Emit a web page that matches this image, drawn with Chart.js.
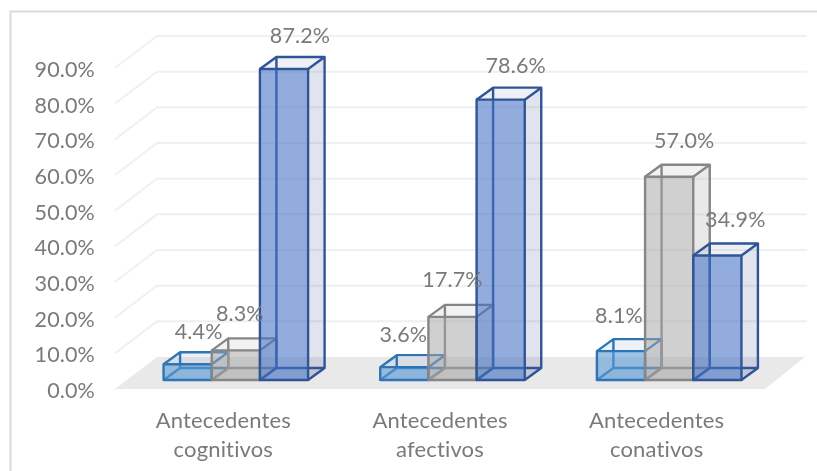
<!DOCTYPE html>
<html lang="es">
<head>
<meta charset="utf-8">
<title>Antecedentes</title>
<script src="https://cdn.jsdelivr.net/npm/chart.js@4"></script>
<style>
  html, body { margin: 0; padding: 0; background: #fff; }
  canvas { display: block; }
</style>
</head>
<body>
<canvas id="chart" width="817" height="471"></canvas>
<script>
const categories = [
  ['Antecedentes', 'cognitivos'],
  ['Antecedentes', 'afectivos'],
  ['Antecedentes', 'conativos']
];
const seriesLight = [4.4, 3.6, 8.1];
const seriesGray = [8.3, 17.7, 57.0];
const seriesBlue = [87.2, 78.6, 34.9];

// Hand-placed nudges for each value label: [dx, dy] from the top centre of its bar.
const lightLabelNudge = [[11, -32], [-1, -32], [-2, -35]];
const grayLabelNudge = [[4, -36], [0, -37], [15, -36]];
const blueLabelNudge = [[16, -33], [15, -34], [18, -35]];

const TEXT = '#7a7a7a';
const FONT = 'Lato';
const WALL = { dx: 42, dy: -32 };   // receding vector of the floor and the side wall
const DEPTH = { dx: 16.5, dy: -12 }; // receding vector of a bar
const BAR_SHIFT = { x: 12.5, y: -9 }; // bars stand inside the floor, not on its front edge
const EDGE_WIDTH = 2.4;

const styles = [
  { front: 'rgba(91,155,213,0.60)', edge: '#2e75b6', top: 'rgba(91,120,190,0.10)', side: 'rgba(91,120,190,0.10)' },
  { front: 'rgba(165,165,165,0.52)', edge: '#868686', top: 'rgba(165,165,165,0.14)', side: 'rgba(165,165,165,0.24)' },
  { front: 'rgba(68,114,196,0.58)', edge: '#2f5597', top: 'rgba(68,90,150,0.09)', side: 'rgba(68,90,150,0.16)' }
];
const nudges = [lightLabelNudge, grayLabelNudge, blueLabelNudge];

function poly(ctx, pts) {
  ctx.beginPath();
  pts.forEach((p, i) => (i ? ctx.lineTo(p[0], p[1]) : ctx.moveTo(p[0], p[1])));
  ctx.closePath();
}

// Frame, floor and the stepped gridlines behind the bars.
const roomPlugin = {
  id: 'room',
  beforeDraw(chart) {
    // A hair of tracking keeps "ti" from joining into a ligature in the axis labels.
    chart.ctx.letterSpacing = '0.15px';
  },
  beforeDatasetsDraw(chart) {
    const { ctx, chartArea: a, scales: { y } } = chart;
    ctx.save();

    ctx.strokeStyle = '#d9d9d9';
    ctx.lineWidth = 2;
    ctx.beginPath();
    ctx.moveTo(10.5, chart.height);
    ctx.lineTo(10.5, 11.5);
    ctx.lineTo(chart.width, 11.5);
    ctx.stroke();

    const y0 = y.getPixelForValue(0);
    ctx.fillStyle = '#e9e9e9';
    poly(ctx, [
      [a.left, y0],
      [a.left + WALL.dx, y0 + WALL.dy],
      [a.right + WALL.dx - 2, y0 + WALL.dy],
      [a.right, y0]
    ]);
    ctx.fill();

    ctx.strokeStyle = '#f0f0f0';
    ctx.lineWidth = 2;
    y.ticks.forEach(t => {
      if (t.value === 0) return;
      const py = y.getPixelForValue(t.value);
      ctx.beginPath();
      ctx.moveTo(a.left, py);
      ctx.lineTo(a.left + WALL.dx, py + WALL.dy);
      ctx.lineTo(a.right + WALL.dx, py + WALL.dy);
      ctx.stroke();
    });
    ctx.restore();
  }
};

// Draws the series in their own order: the receding faces of each bar, the library's
// bar as the front face, then an outline centred on the edges of that face.
const depthPlugin = {
  id: 'depth',
  beforeDatasetsDraw(chart) {
    const { ctx } = chart;
    chart.data.datasets.forEach((ds, i) => {
      const meta = chart.getDatasetMeta(i);
      const s = styles[i];
      ctx.save();
      ctx.translate(BAR_SHIFT.x, BAR_SHIFT.y);
      ctx.lineWidth = EDGE_WIDTH;
      ctx.lineJoin = 'round';
      meta.data.forEach(bar => {
        const { x, y, base, width } = bar.getProps(['x', 'y', 'base', 'width'], true);
        const l = x - width / 2, r = x + width / 2;
        const t = y, b = base;
        const dx = DEPTH.dx, dy = DEPTH.dy;

        ctx.fillStyle = s.side;
        poly(ctx, [[r, t], [r + dx, t + dy], [r + dx, b + dy], [r, b]]);
        ctx.fill();
        ctx.fillStyle = s.top;
        poly(ctx, [[l, t], [l + dx, t + dy], [r + dx, t + dy], [r, t]]);
        ctx.fill();
        poly(ctx, [[l, b], [l + dx, b + dy], [r + dx, b + dy], [r, b]]);
        ctx.fill();

        ctx.strokeStyle = s.edge;
        ctx.beginPath();
        ctx.moveTo(l, t); ctx.lineTo(l + dx, t + dy);
        ctx.lineTo(r + dx, t + dy); ctx.lineTo(r, t);
        ctx.moveTo(r + dx, t + dy); ctx.lineTo(r + dx, b + dy); ctx.lineTo(r, b);
        ctx.moveTo(l + dx, t + dy); ctx.lineTo(l + dx, b + dy); ctx.lineTo(l, b);
        ctx.moveTo(l + dx, b + dy); ctx.lineTo(r + dx, b + dy);
        ctx.stroke();
      });
      meta.controller.draw();
      meta.data.forEach(bar => {
        const { x, y, base, width } = bar.getProps(['x', 'y', 'base', 'width'], true);
        ctx.strokeStyle = s.edge;
        ctx.strokeRect(x - width / 2, y, width, base - y);
      });
      ctx.restore();
    });
  },
  // The series were already painted above, in the wanted stacking order.
  beforeDatasetDraw() {
    return false;
  }
};

// Value labels above the bars.
const valueLabelPlugin = {
  id: 'valueLabels',
  afterDatasetsDraw(chart) {
    const { ctx } = chart;
    ctx.save();
    ctx.font = '21.5px ' + FONT;
    ctx.fillStyle = TEXT;
    ctx.textAlign = 'center';
    ctx.textBaseline = 'middle';
    chart.data.datasets.forEach((ds, i) => {
      chart.getDatasetMeta(i).data.forEach((bar, j) => {
        const { x, y } = bar.getProps(['x', 'y'], true);
        const n = nudges[i][j];
        ctx.fillText(ds.data[j].toFixed(1) + '%', x + BAR_SHIFT.x + n[0], y + BAR_SHIFT.y + n[1]);
      });
    });
    ctx.restore();
  }
};

const makeDataset = (label, data, i) => ({
  label,
  data,
  backgroundColor: styles[i].front,
  borderWidth: 0,
  barPercentage: 1,
  categoryPercentage: 0.667
});

new Chart(document.getElementById('chart'), {
  type: 'bar',
  data: {
    labels: categories,
    datasets: [
      makeDataset('Serie 1', seriesLight, 0),
      makeDataset('Serie 2', seriesGray, 1),
      makeDataset('Serie 3', seriesBlue, 2)
    ]
  },
  plugins: [roomPlugin, depthPlugin, valueLabelPlugin],
  options: {
    responsive: false,
    animation: false,
    layout: { padding: { top: 68, right: 52, left: 0, bottom: 0 } },
    plugins: { legend: { display: false }, tooltip: { enabled: false } },
    scales: {
      x: {
        grid: { display: false, drawTicks: false },
        border: { display: false },
        afterFit(scale) { scale.height = 82; },
        ticks: {
          color: TEXT,
          font: { family: FONT, size: 22, lineHeight: 1.32 },
          padding: 17,
          maxRotation: 0,
          autoSkip: false
        }
      },
      y: {
        min: 0,
        max: 90,
        grid: { display: false, drawTicks: false },
        border: { display: false },
        afterFit(scale) { scale.width = 115; },
        ticks: {
          stepSize: 10,
          color: TEXT,
          font: { family: FONT, size: 21.5 },
          padding: 20,
          labelOffset: 2,
          callback: v => v.toFixed(1) + '%'
        }
      }
    }
  }
});
</script>
</body>
</html>
